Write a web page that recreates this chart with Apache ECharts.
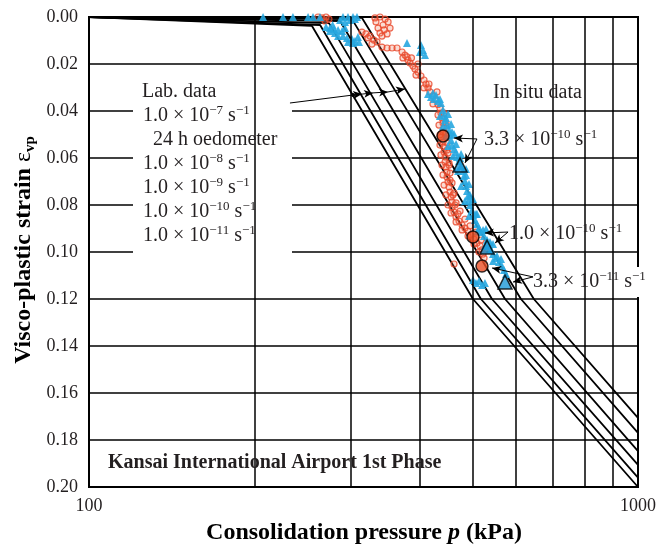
<!DOCTYPE html>
<html>
<head>
<meta charset="utf-8">
<script src="https://cdn.jsdelivr.net/npm/echarts@6/dist/echarts.min.js"></script>
<style>
html,body{margin:0;padding:0;background:#fff;}
#chart{width:660px;height:547px;}
</style>
</head>
<body>
<div id="chart"></div>
<script>
// ---------- data ----------
const xTickLabels = [100, 1000];
const xGridValues = [200, 300, 400, 500, 600, 700, 800, 900];
const yTickLabels = ['0.00','0.02','0.04','0.06','0.08','0.10','0.12','0.14','0.16','0.18','0.20'];

// Lab isotaches [p (kPa), strain]
const isotach_1e11 = [[100,0],[254.8,0.0038],[500.5,0.120],[1000,0.200]];
const isotach_1e10 = [[100,0],[263.6,0.0034],[517.5,0.120],[1000,0.196]];
const isotach_1e9  = [[100,0],[273.6,0.0026],[542,0.120],[1000,0.1906]];
const isotach_1e8  = [[100,0],[286.6,0.0017],[572.6,0.120],[1000,0.1847]];
const isotach_24h  = [[100,0],[301.3,0.0009],[612,0.120],[1000,0.177]];
const isotach_1e7  = [[100,0],[314.3,0.0004],[646,0.120],[1000,0.1706]];

// In situ data, red circles
const insituRed = [
 [261.3,0.000],[265.7,0.0004],[270.2,0.000],[273.6,0.0009],[269.1,0.0017],
 [331.8,0.0004],[338.9,0.000],[346.2,0.0009],[350.6,0.0021],[343.3,0.0034],[336.1,0.0047],
 [344.8,0.0055],[349.1,0.0072],[338.9,0.0068],[314.2,0.0064],[319.5,0.0072],[324.9,0.0081],
 [322.2,0.0089],[330.4,0.0098],[334.7,0.0106],[327.6,0.0115],[341.7,0.0128],[349.1,0.0132],
 [356.5,0.0132],[364.0,0.0132],[371.8,0.0149],[376.3,0.0162],[373.1,0.0174],[381.1,0.0183],
 [384.3,0.0196],[389.1,0.0209],[392.4,0.0221],[379.5,0.0170],[397.4,0.0234],[402.4,0.0251],
 [407.6,0.0268],[411.0,0.0285],[414.5,0.0302],[417.9,0.0319],[423.2,0.0336],[428.6,0.0353],
 [432.2,0.0372],[435.8,0.0387],[437.6,0.0409],[439.5,0.0430],[441.4,0.0451],[443.3,0.0472],
 [441.4,0.0489],[437.6,0.0511],[441.4,0.0532],[443.3,0.0553],[443.3,0.0574],[445.2,0.0596],
 [445.2,0.0617],[447.0,0.0638],[448.9,0.0660],[448.9,0.0681],[450.8,0.0702],[452.7,0.0723],
 [454.6,0.0745],[456.5,0.0766],[458.4,0.0787],[458.4,0.0809],[462.3,0.0830],[466.2,0.0851],
 [472.1,0.0868],[478.1,0.0885],[484.0,0.0898],[490.2,0.0911],[496.4,0.0928],[502.6,0.0945],
 [509.0,0.0962],[515.6,0.0974],[519.9,0.0991],[522.1,0.1009],[524.3,0.1026],[462.3,0.1051],
 [448.9,0.0566],[452.7,0.0630],[454.6,0.0694],[460.3,0.0757],[464.2,0.0800],[470.1,0.0838],
 [432.2,0.0417],[443.3,0.0409],[434.0,0.0460],[447.0,0.0451],[435.8,0.0502],[447.0,0.0494],
 [435.8,0.0545],[448.9,0.0536],[437.6,0.0587],[450.8,0.0579],[439.5,0.0630],[452.7,0.0621],
 [441.4,0.0672],[454.6,0.0664],[443.3,0.0715],[458.4,0.0706],[447.0,0.0757],[462.3,0.0749],
 [450.8,0.0800],[466.2,0.0791],[456.5,0.0834],[474.1,0.0826],[466.2,0.0872],[484.0,0.0860],
 [478.1,0.0906],[494.3,0.0889],[490.2,0.0932],[506.8,0.0915],[502.6,0.0966],[517.7,0.0949],
 [513.3,0.1000],[528.6,0.0983],
 [386.7,0.0174],[397.4,0.0200],[394.1,0.0247],[407.6,0.0302],[416.2,0.0285],[423.2,0.0370],
 [430.4,0.0319],[353.5,0.0047],[333.2,0.0021],[341.7,0.0081]
];
// In situ data, blue triangles
const insituBlue = [
 [207.5,0.000],[225.6,0.000],[235.2,0.000],[250.6,0.000],[255.9,0.000],[263.5,0.000],
 [290.2,0.000],[296.3,0.000],[302.6,0.000],[307.7,0.000],[286.6,0.0013],[292.6,0.0021],
 [298.8,0.0013],[305.1,0.0009],[270.2,0.0043],[274.8,0.0047],[279.4,0.0051],[284.2,0.0055],
 [289.1,0.0060],[274.8,0.0060],[280.6,0.0068],[290.2,0.0081],[295.0,0.0089],[301.3,0.0094],
 [305.1,0.0102],[310.3,0.0106],[296.3,0.0106],[302.6,0.0111],[379.5,0.0111],[402.4,0.0119],
 [405.8,0.0140],[409.3,0.0162],[400.7,0.0149],[414.5,0.0328],[419.7,0.0340],[425.0,0.0349],
 [432.2,0.0357],[437.6,0.0366],[428.6,0.0332],[441.4,0.0396],[443.3,0.0417],[445.2,0.0438],
 [448.9,0.0460],[452.7,0.0481],[454.6,0.0502],[456.5,0.0523],[458.4,0.0545],[462.3,0.0562],
 [466.2,0.0574],[468.2,0.0596],[472.1,0.0613],[476.1,0.0634],[480.1,0.0655],[482.0,0.0677],
 [484.0,0.0698],[486.1,0.0719],[488.1,0.0740],[490.2,0.0762],[492.2,0.0779],[494.3,0.0800],
 [498.4,0.0821],[500.5,0.0843],[504.7,0.0864],[509.0,0.0881],[513.3,0.0898],[517.7,0.0915],
 [524.3,0.0932],[530.9,0.0949],[535.3,0.0970],[539.8,0.0991],[544.4,0.1009],[551.3,0.1026],
 [558.3,0.1043],[565.3,0.1060],[570.0,0.1077],[574.8,0.1094],[500.5,0.1119],[506.8,0.1132],
 [513.3,0.1123],[519.9,0.1140],[526.3,0.1132],
 [447.0,0.0430],[458.4,0.0489],[474.1,0.0600],[486.1,0.0672],[494.3,0.0757],[506.8,0.0838],
 [522.1,0.0906],[537.5,0.0957],[553.6,0.1017],
 [435.8,0.0421],[450.8,0.0413],[441.4,0.0464],[456.5,0.0455],[447.0,0.0506],[462.3,0.0498],
 [450.8,0.0549],[466.2,0.0540],[460.3,0.0591],[476.1,0.0583],[470.1,0.0655],[486.1,0.0647],
 [476.1,0.0719],[492.2,0.0711],[484.0,0.0783],[500.5,0.0774],[492.2,0.0847],[509.0,0.0838],
 [511.1,0.0911],[528.6,0.0902],[526.3,0.0974],[544.4,0.0966],[544.4,0.1038],[563.0,0.1030],
 [423.2,0.0323],[435.8,0.0349],[277.8,0.0034],[284.2,0.0081],[308.9,0.0085],[292.6,0.0047]
];
// Highlighted in situ points (3.3e-10, 1.0e-10, 3.3e-11 s^-1)
const keyRed  = [[441.4,0.0506],[500.5,0.0936],[519.8,0.1060]];
const keyBlue = [[474.1,0.0630],[530.9,0.0979],[572.4,0.1128]];

// Annotation pointer coordinates [p, strain]
const labPointer = [[232.3,0.0366],[302.7,0.0332],[314.4,0.0328],[329.1,0.0323],[350.4,0.0319],[376.3,0.0306]];
const ptr33e10 = {from:[508.9,0.0519], to:[[462.1,0.0515],[484.0,0.0621]]};
const ptr10e10 = {from:[579.8,0.0915], to:[[526.3,0.0919],[549.0,0.0962]]};
const ptr33e11 = {from:[643.9,0.1106], to:[[542.2,0.1068],[592.0,0.1128]]};

// ---------- chart ----------
const FONT = 'Liberation Serif';
const INK = '#231f20';
const chart = echarts.init(document.getElementById('chart'), null, {renderer:'canvas'});

const R = {
  n:   {fontFamily:FONT, fontSize:20, color:INK, lineHeight:24},
  sup: {fontFamily:FONT, fontSize:13, color:INK, lineHeight:12, verticalAlign:'top'}
};
function rate(mant, exp){ return '{n|' + mant + ' × 10}{sup|−' + exp + '}{n| s}{sup|−1}'; }

function textEl(x, y, text, extra){
  return Object.assign({type:'text', x:x, y:y, z:20, silent:true,
    style:{text:text, rich:R, align:'left', verticalAlign:'middle', fill:INK}}, extra||{});
}
function box(x, y, w, h){
  return {type:'rect', z:2, silent:true, shape:{x:x, y:y, width:w, height:h}, style:{fill:'#fff'}};
}

const arrowSegs = [];
for (let i = 0; i < labPointer.length - 1; i++) {
  arrowSegs.push([
    {coord: labPointer[i], symbol:'none'},
    {coord: labPointer[i+1], symbol: i === 0 ? 'circle' : 'arrow', symbolSize: i === 0 ? 4 : [6,9]}
  ]);
}
[ptr33e10, ptr10e10, ptr33e11].forEach(p => {
  p.to.forEach(t => arrowSegs.push([{coord:p.from, symbol:'none'},{coord:t, symbol:'arrow', symbolSize:[6,9]}]));
});

const isotaches = [isotach_1e11, isotach_1e10, isotach_1e9, isotach_1e8, isotach_24h, isotach_1e7];

const series = isotaches.map(d => ({
  type:'line', data:d, symbol:'none', z:3, silent:true,
  lineStyle:{color:'#000', width:1.8}
}));
series.push({
  type:'line', data:[], z:1, silent:true,
  markLine:{silent:true, symbol:'none', label:{show:false}, animation:false,
    lineStyle:{color:'#000', width:1.5, type:'solid'},
    data: xGridValues.map(v => ({xAxis:v}))}
});
series.push({type:'scatter', data:insituRed, symbol:'circle', symbolSize:6, z:4, silent:true,
  itemStyle:{color:'rgba(240,110,80,0.3)', borderColor:'#e8472a', borderWidth:1.2}});
series.push({type:'scatter', data:insituBlue, symbol:'triangle', symbolSize:8, z:4, silent:true,
  itemStyle:{color:'#27a7e0', opacity:0.9}});
series.push({type:'scatter', data:keyRed, symbol:'circle', symbolSize:12, z:6, silent:true,
  itemStyle:{color:'#ea4e24', borderColor:'#000', borderWidth:1.5}});
series.push({type:'scatter', data:keyBlue, symbol:'triangle', symbolSize:14, z:6, silent:true,
  itemStyle:{color:'#1d9ad8', borderColor:'#000', borderWidth:1.5}});
series.push({
  type:'line', data:[], z:7, silent:true,
  markLine:{silent:true, label:{show:false}, animation:false,
    lineStyle:{color:'#000', width:1, type:'solid'},
    data: arrowSegs}
});

chart.setOption({
  animation:false,
  backgroundColor:'#fff',
  grid:{left:89, right:22, top:17, bottom:60, show:true, borderColor:'#000', borderWidth:2, backgroundColor:'transparent'},
  xAxis:{type:'log', logBase:10, min:100, max:1000,
    axisLine:{show:true, lineStyle:{color:'#000', width:2}},
    axisTick:{show:false}, splitLine:{show:false},
    axisLabel:{fontFamily:FONT, fontSize:18, color:INK, margin:10,
      formatter: v => xTickLabels.indexOf(Math.round(v)) >= 0 ? String(Math.round(v)) : ''}
  },
  yAxis:{type:'value', inverse:true, min:0, max:0.2, interval:0.02,
    axisLine:{show:true, lineStyle:{color:'#000', width:2}},
    axisTick:{show:false},
    splitLine:{show:true, lineStyle:{color:'#000', width:1.5}},
    axisLabel:{fontFamily:FONT, fontSize:18, color:INK, margin:11,
      formatter: (v, i) => yTickLabels[Math.round(v/0.02)]}
  },
  series: series,
  graphic: [
    box(133, 70, 159, 187),
    box(479, 72, 141, 31),
    box(479, 127, 125, 27),
    box(503, 222, 125, 27),
    box(528, 267, 128, 30),
    box(92, 447, 364, 32),
    textEl(142, 92, '{n|Lab. data}'),
    textEl(143, 116, rate('1.0','7')),
    textEl(153, 140, '{n|24 h oedometer}'),
    textEl(143, 164, rate('1.0','8')),
    textEl(143, 188, rate('1.0','9')),
    textEl(143, 212, rate('1.0','10')),
    textEl(143, 236, rate('1.0','11')),
    textEl(493, 93, '{n|In situ data}'),
    textEl(484, 140, rate('3.3','10')),
    textEl(509, 234, rate('1.0','10')),
    textEl(533, 282, rate('3.3','11')),
    {type:'text', x:108, y:463, z:20, silent:true,
      style:{text:'Kansai International Airport 1st Phase', font:'bold 20px "Liberation Serif"', fill:INK, align:'left', verticalAlign:'middle'}},
    {type:'text', x:364, y:533, z:20, silent:true,
      style:{text:'{b|Consolidation pressure }{i|p}{b| (kPa)}', align:'center', verticalAlign:'middle',
        rich:{b:{fontFamily:FONT, fontWeight:'bold', fontSize:24, color:INK},
              i:{fontFamily:FONT, fontWeight:'bold', fontStyle:'italic', fontSize:24, color:INK}}}},
    {type:'text', x:24, y:250, z:20, silent:true, rotation:Math.PI/2,
      style:{text:'{b|Visco-plastic strain }{e|ε}{s|vp}', align:'center', verticalAlign:'middle',
        rich:{b:{fontFamily:FONT, fontWeight:'bold', fontSize:24, color:INK, lineHeight:28},
              e:{fontFamily:FONT, fontSize:24, color:INK, lineHeight:28},
              s:{fontFamily:FONT, fontWeight:'bold', fontSize:15, color:INK, lineHeight:15, verticalAlign:'bottom'}}}}
  ]
});
</script>
</body>
</html>
